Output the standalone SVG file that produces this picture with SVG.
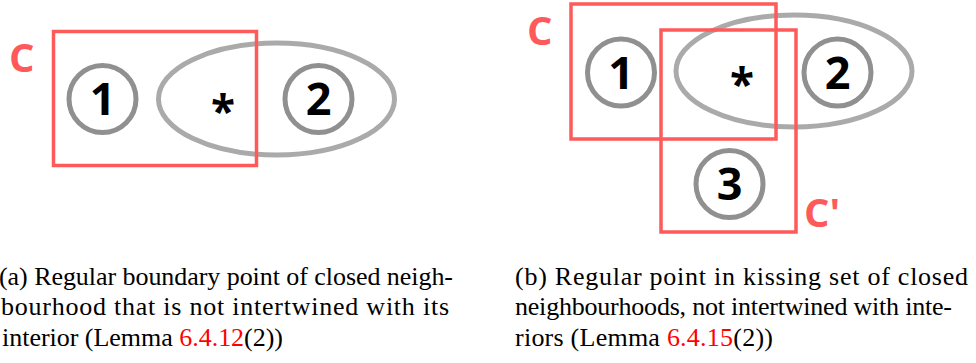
<svg xmlns="http://www.w3.org/2000/svg" width="976" height="363" viewBox="0 0 976 363">
<style>
.ell{fill:none;stroke:#aaaaaa;stroke-width:5}
.pt{fill:none;stroke:#909090;stroke-width:5}
.nb{fill:none;stroke:#ff5a5a;stroke-width:3.5}
.num{font-family:"Open Sans","DejaVu Sans",sans-serif;font-weight:bold;font-size:45px;fill:#000;text-anchor:middle}
.ast{font-family:"Open Sans","DejaVu Sans",sans-serif;font-weight:bold;font-size:44px;fill:#000;text-anchor:middle}
.lbl{font-family:"Open Sans","DejaVu Sans",sans-serif;font-weight:bold;font-size:40px;fill:#ff5a5a}
.cap{font-family:"Liberation Serif","Times New Roman",serif;font-size:26px;fill:#000}
.ref{fill:#ff0000}
</style>
<g id="panel-a">
  <g id="a-ellipse"><ellipse class="ell" cx="276.5" cy="99" rx="118" ry="56"/></g>
  <g id="a-rect-C"><rect class="nb" x="53.5" y="31.5" width="203" height="134"/></g>
  <g id="a-label-C"><text class="lbl" x="9" y="72">C</text></g>
  <g id="a-node-1"><circle class="pt" cx="102.5" cy="99" r="33.5"/><text class="num" x="102.5" y="115">1</text></g>
  <g id="a-node-2"><circle class="pt" cx="318.5" cy="99" r="33.5"/><text class="num" x="318.5" y="115">2</text></g>
  <g id="a-star"><text class="ast" x="223" y="127">*</text></g>
</g>
<g id="panel-b">
  <g id="b-ellipse"><ellipse class="ell" cx="794" cy="71" rx="118" ry="56"/></g>
  <g id="b-rect-C"><rect class="nb" x="571" y="4" width="205" height="135"/></g>
  <g id="b-rect-C2"><rect class="nb" x="661" y="30" width="135" height="202"/></g>
  <g id="b-label-C"><text class="lbl" x="527" y="45">C</text></g>
  <g id="b-label-C2"><text class="lbl" x="804" y="227">C'</text></g>
  <g id="b-node-1"><circle class="pt" cx="621" cy="72.5" r="33.5"/><text class="num" x="621" y="88.5">1</text></g>
  <g id="b-node-2"><circle class="pt" cx="837.5" cy="72.5" r="33.5"/><text class="num" x="837.5" y="88.5">2</text></g>
  <g id="b-node-3"><circle class="pt" cx="729.5" cy="184" r="33.5"/><text class="num" x="729.5" y="200">3</text></g>
  <g id="b-star"><text class="ast" x="742" y="100">*</text></g>
</g>
<g id="connectors"/>
<g id="captions">
  <text class="cap" x="-1" y="285" textLength="454" lengthAdjust="spacing">(a) Regular boundary point of closed neigh-</text>
  <text class="cap" x="1" y="315" textLength="448" lengthAdjust="spacing">bourhood that is not intertwined with its</text>
  <text class="cap" x="2" y="346" textLength="281" lengthAdjust="spacing">interior (Lemma <tspan class="ref">6.4.12</tspan>(2))</text>
  <text class="cap" x="515" y="285" textLength="453" lengthAdjust="spacing">(b) Regular point in kissing set of closed</text>
  <text class="cap" x="515" y="315" textLength="437" lengthAdjust="spacing">neighbourhoods, not intertwined with inte-</text>
  <text class="cap" x="515" y="346" textLength="258" lengthAdjust="spacing">riors (Lemma <tspan class="ref">6.4.15</tspan>(2))</text>
</g>
</svg>
